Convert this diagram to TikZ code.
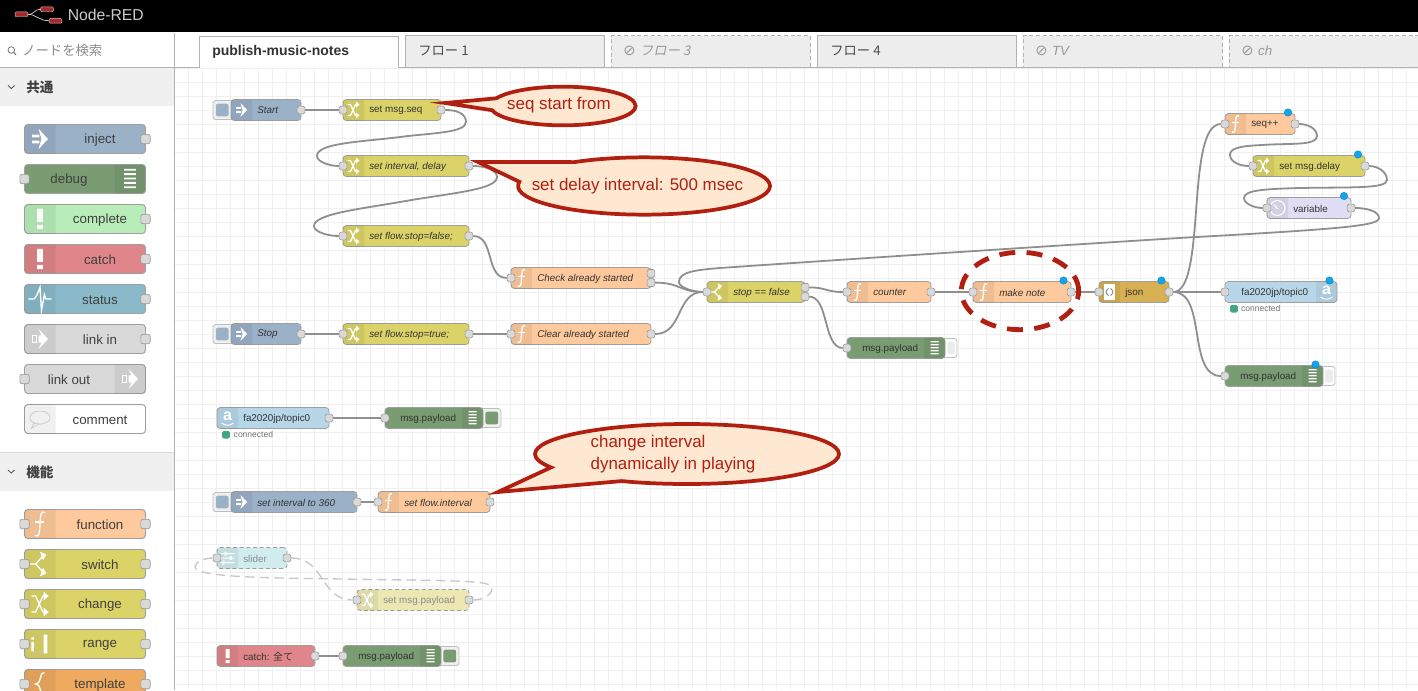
\documentclass[tikz,border=0pt]{standalone}
\usepackage{fontspec}
\setmainfont{Liberation Sans}
\newfontfamily\jpfont{Noto Sans CJK JP}
\newfontfamily\jpslant[FakeSlant=0.2]{Noto Sans CJK JP}
\newfontfamily\symfont{DejaVu Sans}
\usetikzlibrary{shapes.geometric}
\usetikzlibrary{shapes.callouts}
\usetikzlibrary{positioning}
\definecolor{colInject}{HTML}{9BB1C8}
\definecolor{colDebug}{HTML}{7A9C72}
\definecolor{colComplete}{HTML}{B8ECB8}
\definecolor{colCatch}{HTML}{E08589}
\definecolor{colStatus}{HTML}{8ABACA}
\definecolor{colLink}{HTML}{D9D9D9}
\definecolor{colComment}{HTML}{FFFFFF}
\definecolor{colFunc}{HTML}{FEC99C}
\definecolor{colSwitch}{HTML}{DBD367}
\definecolor{colChange}{HTML}{DBD367}
\definecolor{colRange}{HTML}{DBD367}
\definecolor{colTemplate}{HTML}{EFAA60}
\definecolor{colJson}{HTML}{D6B052}
\definecolor{colTopic}{HTML}{B7D7E9}
\definecolor{colDelay}{HTML}{E1DDF5}
\definecolor{colSlider}{HTML}{D1ECEE}
\definecolor{colFade}{HTML}{ECE7B3}
\definecolor{wireGray}{HTML}{8F8F8F}
\definecolor{calloutRed}{HTML}{B01F0F}
\definecolor{calloutFill}{HTML}{FFE8D2}
\definecolor{logoRed}{HTML}{A52A2A}
\definecolor{dotBlue}{HTML}{12A5EE}
\definecolor{statusGreen}{HTML}{45A583}
\pgfdeclarelayer{wires}
\pgfsetlayers{wires,main}

\tikzset{IconLine/.style = {draw = white, line width = 1pt}}
\tikzset{
  icoInject/.pic = {
    \fill[white] (-5.5,-3) rectangle (-0.5,-1.2) (-5.5,1.2) rectangle (-0.5,3);
    \fill[white] (-1,-7) -- (5.5,0) -- (-1,7) -- (1,0) -- cycle;
  },
  icoDebug/.pic = {
    \fill[white] (-4,-7) rectangle (4,-5.7) (-4,-4) rectangle (4,-2.7) (-4,-1) rectangle (4,0.3)
                 (-4,2) rectangle (4,3.3) (-4,5) rectangle (4,6.3);
  },
  icoComplete/.pic = {\fill[white] (-2,-7) rectangle (2,2) (-2,4) rectangle (2,7);},
  icoCatch/.pic = {\fill[white] (-2,-7) rectangle (2,2) (-2,4) rectangle (2,7);},
  icoStatus/.pic = {\draw[IconLine] (-8,0) -- (-4,0) -- (-2,-3) -- (0,-8) -- (1,8) -- (3,-3) -- (4,0) -- (8,0);},
  icoLink/.pic = {
    \fill[white] (-1,-7) -- (5.5,0) -- (-1,7) -- (1,2.5) -- (-1,2.5) -- (-1,-2.5) -- (1,-2.5) -- cycle;
    \draw[IconLine] (-5,-2.5) rectangle (-2.5,2.5);
  },
  icoComment/.pic = {
    \draw[gray!50] (0,-1) ellipse (7 and 4.5);
    \draw[gray!50] (-4,2.5) -- (-6,6.5) -- (-1,3.5);
  },
  icoFunc/.pic = {
    \draw[IconLine] (3.5,-8) .. controls (0.5,-9.5) and (0.3,-6) .. (0,0) .. controls (-0.3,6) and (-0.5,9.5) .. (-3.5,8);
    \draw[IconLine] (-3.5,-1.5) -- (3,-1.5);
  },
  icoSwitch/.pic = {
    \draw[IconLine] (-7,0) -- (-3,0) -- (2,-5.5) (-3,0) -- (2,5.5);
    \fill[white] (0,-8.5) -- (4.5,-6.5) -- (2,-2.5) -- cycle (0,8.5) -- (4.5,6.5) -- (2,2.5) -- cycle;
  },
  icoChange/.pic = {
    \draw[IconLine] (-6,-5.5) -- (-3,-5.5) -- (2,5.5) -- (3.5,5.5) (-6,5.5) -- (-3,5.5) -- (2,-5.5) -- (3.5,-5.5);
    \fill[white] (2.5,-8.5) -- (6,-5.5) -- (2.5,-2.5) -- cycle (2.5,8.5) -- (6,5.5) -- (2.5,2.5) -- cycle;
  },
  icoRange/.pic = {
    \fill[white] (-6,-1.5) rectangle (-4.3,5) (-6,-4.5) rectangle (-4.3,-3) (2.5,-6.5) rectangle (5,6.5);
    \draw[white!75!black,line width=0.3pt] (-4.5,-6) -- (2.5,-6.5) (-4.5,6.5) -- (2.5,6.5);
  },
  icoTemplate/.pic = {\draw[IconLine] (3,-8) .. controls (-1,-8) and (2,-1) .. (-3,0) .. controls (2,1) and (-1,8) .. (3,8);},
  icoJson/.pic = {
    \fill[white] (-6,-8) rectangle (5,8);
    \draw[gray,line width=0.6pt] (-1,-3.5) .. controls (-3.5,-3.5) and (-2,-0.5) .. (-3.5,0) .. controls (-2,0.5) and (-3.5,3.5) .. (-1,3.5)
      (1,-3.5) .. controls (3.5,-3.5) and (2,-0.5) .. (3.5,0) .. controls (2,0.5) and (3.5,3.5) .. (1,3.5);
  },
  icoTopic/.pic = {
    \node[text=white,font=\bfseries\fontsize{12}{12}\selectfont,inner sep=0pt] (-a) at (0,-2) {a};
    \draw[white,line width=0.7pt] (-6,5) .. controls (-2,8) and (2,8) .. (6,5);
  },
  icoDelay/.pic = {
    \draw[white,line width=0.8pt] (0,0) circle (7.5);
    \draw[white,line width=0.8pt] (-3.5,-3.5) -- (0,1);
  },
  icoSlider/.pic = {
    \fill[white] (-7,-5) rectangle (7,-4) (-7,-0.5) rectangle (7,0.5) (-7,4) rectangle (7,5);
    \fill[white] (-3,-6.5) rectangle (-1,-2.5) (2,-2) rectangle (4,2) (-5,2.5) rectangle (-3,6.5);
  },
  icoFade/.pic = {\pic {icoChange};}
}

\tikzset{FlowStyle/.style = {
    shape         = rectangle,
    draw          = gray!75,
    line width    = 0.6pt,
    rounded corners = 2.5pt,
    inner sep     = 0pt,
    outer sep     = 0pt,
    minimum height = 15.75pt
  }
}
\tikzset{PalStyle/.style = {
    FlowStyle,
    line width    = 0.7pt,
    minimum width = 90.75pt,
    minimum height = 21.75pt
  }
}
\tikzset{BandStyle/.style = {fill = black, fill opacity = 0.06}}
\tikzset{FlowText/.style = {
    anchor = west, inner sep = 0pt, text = black!80, yshift = -0.4pt,
    font = \fontsize{7.4}{9}\selectfont
  }
}
\tikzset{ital/.style = {font = \itshape\fontsize{7.4}{9}\selectfont}}
\tikzset{PalText/.style = {
    inner sep = 0pt, text = black!75, yshift = -0.6pt,
    font = \fontsize{10}{12}\selectfont
  }
}
\tikzset{PortStyle/.style = {
    shape = rectangle, draw = gray!80, fill = black!15, line width = 0.5pt,
    rounded corners = 1.2pt, inner sep = 0pt, minimum size = 5.8pt
  }
}
\tikzset{PalPort/.style = {PortStyle, minimum size = 7pt, rounded corners = 1.5pt}}
\tikzset{ButtonStyle/.style = {
    shape = rectangle, draw = gray!50, fill = black!6, line width = 0.6pt,
    rounded corners = 2pt, inner sep = 0pt, minimum height = 14.25pt, minimum width = 15.75pt
  }
}
\tikzset{ButtonInner/.style = {
    shape = rectangle, rounded corners = 1.5pt, inner sep = 0pt, minimum size = 9.5pt
  }
}
\tikzset{ChangedDot/.style = {
    shape = circle, fill = dotBlue, draw = dotBlue!80!black, line width = 0.3pt,
    inner sep = 0pt, minimum size = 5.6pt
  }
}
\tikzset{StatusDot/.style = {
    shape = rectangle, rounded corners = 1.2pt, fill = statusGreen,
    inner sep = 0pt, minimum size = 5.8pt
  }
}
\tikzset{StatusText/.style = {
    inner sep = 0pt, text = black!55, font = \fontsize{6.4}{8}\selectfont
  }
}
\tikzset{WireStyle/.style = {draw = wireGray, line width = 1.35pt}}
\tikzset{WireFade/.style = {draw = black!22, line width = 1pt, dash pattern = on 7pt off 4pt}}
\tikzset{CalloutStyle/.style = {
    shape = ellipse callout, draw = calloutRed, fill = calloutFill,
    line width = 2.8pt, inner sep = 0pt, outer sep = 0pt
  }
}
\tikzset{CalloutText/.style = {
    inner sep = 0pt, text = calloutRed, align = left,
    font = \fontsize{12.7}{17}\selectfont
  }
}
\tikzset{TabStyle/.style = {
    shape = rectangle, draw = black!30, fill = black!7, line width = 0.7pt,
    inner sep = 0pt, outer sep = 0pt, minimum height = 23.5pt, minimum width = 149.5pt
  }
}
\tikzset{TabOff/.style = {TabStyle, densely dashed}}
\tikzset{TabText/.style = {
    inner sep = 0pt, anchor = west, text = black!70,
    font = \jpfont\fontsize{10}{12}\selectfont
  }
}
\tikzset{TabTextOff/.style = {
    inner sep = 0pt, anchor = west, text = black!40,
    font = \itshape\fontsize{10}{12}\selectfont
  }
}
\tikzset{TabMark/.style = {
    inner sep = 0pt, anchor = west, text = black!40,
    font = \symfont\fontsize{11}{12}\selectfont
  }
}
\tikzset{HeadText/.style = {
    inner sep = 0pt, anchor = west, text = black!75,
    font = \jpfont\bfseries\fontsize{10.2}{12}\selectfont
  }
}

% workspace node with its icon on the left
\newcommand{\FlowNode}[6][]{
  \node[FlowStyle,#1,fill=col#3,minimum width={(#5-#4)*0.75pt}] (#2) at ({(#4+#5)/2},#6) {};
  \fill[BandStyle] (#4+21,#6-10.5) [rounded corners=2.5pt] -- (#4,#6-10.5) -- (#4,#6+10.5) [sharp corners] -- (#4+21,#6+10.5) -- cycle;
  \pic at (#4+10.5,#6) {ico#3};
}
\newcommand{\FlowText}[5][]{\node[FlowText,#1] (#2T) at (#3+26,#4) {#5};}
% workspace node with its icon on the right
\newcommand{\FlowNodeR}[5]{
  \node[FlowStyle,fill=col#2,minimum width={(#4-#3)*0.75pt}] (#1) at ({(#3+#4)/2},#5) {};
  \fill[BandStyle] (#4-21,#5-10.5) [rounded corners=2.5pt] -- (#4,#5-10.5) -- (#4,#5+10.5) [sharp corners] -- (#4-21,#5+10.5) -- cycle;
  \pic at (#4-10.5,#5) {ico#2};
}
% palette node
\newcommand{\PalNode}[4]{
  \node[PalStyle,fill=col#2] (#1) at (85,#3) {};
  \fill[BandStyle] (55.5,#3-14.5) [rounded corners=2.5pt] -- (24.5,#3-14.5) -- (24.5,#3+14.5) [sharp corners] -- (55.5,#3+14.5) -- cycle;
  \pic[scale=1.45] at (40,#3) {ico#2};
  \node[PalText] (#1T) at (100,#3) {#4};
}
\newcommand{\PalNodeR}[4]{
  \node[PalStyle,fill=col#2] (#1) at (85,#3) {};
  \fill[BandStyle] (114.5,#3-14.5) [rounded corners=2.5pt] -- (145.5,#3-14.5) -- (145.5,#3+14.5) [sharp corners] -- (114.5,#3+14.5) -- cycle;
  \pic[scale=1.45] at (130,#3) {ico#2};
  \node[PalText] (#1T) at (69,#3) {#4};
}
\newcommand{\PortI}[1]{\node[PortStyle] (#1I) at (#1.west) {};}
\newcommand{\PortO}[1]{\node[PortStyle] (#1O) at (#1.east) {};}
\newcommand{\PalI}[1]{\node[PalPort] (#1I) at (#1.west) {};}
\newcommand{\PalO}[1]{\node[PalPort] (#1O) at (#1.east) {};}
% inject and debug buttons
\newcommand{\ButtonL}[3]{
  \node[ButtonStyle] (#1B) at (#2-7.5,#3) {};
  \node[ButtonInner,fill=colInject] (#1BI) at (#2-8.8,#3) {};
}
\newcommand{\ButtonR}[3]{
  \node[ButtonStyle] (#1B) at (#2+7.5,#3) {};
  \node[ButtonInner,fill=colDebug] (#1BI) at (#2+8.8,#3) {};
}
\newcommand{\ButtonOff}[3]{
  \node[ButtonStyle,fill=white,minimum width=11.25pt] (#1B) at (#2+4.5,#3) {};
  \node[ButtonInner,fill=black!8,minimum width=5.5pt] (#1BI) at (#2+6,#3) {};
}

\begin{document}
\begin{tikzpicture}[x=0.75pt,y=-0.75pt]
  \useasboundingbox (0,0) rectangle (1418,690);

  % header bar
  \fill[black] (0,0) rectangle (1418,32);
  \node[shape=rectangle,fill=logoRed,draw=white!70!logoRed,line width=0.3pt,rounded corners=0.8pt,inner sep=0pt,minimum width=9.5pt,minimum height=3.6pt] (logoA) at (21.5,14.3) {};
  \node[shape=rectangle,fill=logoRed,draw=white!70!logoRed,line width=0.3pt,rounded corners=0.8pt,inner sep=0pt,minimum width=9.5pt,minimum height=3.6pt] (logoB) at (47,9.3) {};
  \node[shape=rectangle,fill=logoRed,draw=white!70!logoRed,line width=0.3pt,rounded corners=0.8pt,inner sep=0pt,minimum width=9.5pt,minimum height=3.6pt] (logoC) at (55.5,20.7) {};
  \draw[white!70!gray,line width=0.5pt] (logoA.east) .. controls (35,14.3) and (34,9.3) .. (logoB.west);
  \draw[white!70!gray,line width=0.5pt] (logoA.east) .. controls (36,14.3) and (39,20.7) .. (logoC.west);
  \node[inner sep=0pt,anchor=west,text=black!20,font=\fontsize{11.8}{14}\selectfont] (logoT) at (67.5,15) {Node-RED};

  % palette
  \node[inner sep=0pt,text=black!45,font=\jpfont\fontsize{10}{12}\selectfont,anchor=west] (searchT) at (22,50.5) {ノードを検索};
  \draw[black!55,line width=0.6pt] (11.3,50) circle (3.3);
  \draw[black!55,line width=0.8pt] (13.8,52.5) -- (16,55);
  \fill[black!6] (0,68) rectangle (174,106);
  \fill[black!6] (0,452) rectangle (174,490.5);
  \draw[black!30,line width=0.7pt] (0,67.5) -- (174,67.5);
  \draw[black!15,line width=0.5pt] (0,452) -- (174,452);
  \draw[black!70,line width=0.6pt] (8,85.5) -- (11.3,88.5) -- (14.6,85.5);
  \draw[black!70,line width=0.6pt] (8,470) -- (11.3,473) -- (14.6,470);
  \node[HeadText] (headA) at (26,87) {共通};
  \node[HeadText] (headB) at (26,472) {機能};
  \PalNode{palInject}{Inject}{139}{inject}
  \PalNodeR{palDebug}{Debug}{179}{debug}
  \PalNode{palComplete}{Complete}{219}{complete}
  \PalNode{palCatch}{Catch}{259}{catch}
  \PalNode{palStatus}{Status}{299}{status}
  \PalNode{palLinkIn}{Link}{339}{link in}
  \PalNodeR{palLinkOut}{Link}{379}{link out}
  \PalNode{palComment}{Comment}{419}{comment}
  \PalNode{palFunc}{Func}{524}{function}
  \PalNode{palSwitch}{Switch}{564}{switch}
  \PalNode{palChange}{Change}{604}{change}
  \PalNode{palRange}{Range}{644}{range}
  \PalNode{palTemplate}{Template}{684}{template}
  \PalO{palInject} \PalI{palDebug} \PalO{palComplete} \PalO{palCatch} \PalO{palStatus}
  \PalO{palLinkIn} \PalI{palLinkOut}
  \PalI{palFunc} \PalO{palFunc} \PalI{palSwitch} \PalO{palSwitch} \PalI{palChange} \PalO{palChange}
  \PalI{palRange} \PalO{palRange} \PalI{palTemplate} \PalO{palTemplate}
  \draw[black!30,line width=0.7pt] (174.5,33) -- (174.5,690);

  % tabs
  \draw[black!30,line width=0.7pt] (174.5,67.5) -- (1418,67.5);
  \node[TabStyle] (tabB) at (505,51.5) {};
  \node[TabOff] (tabC) at (711,51.5) {};
  \node[TabStyle] (tabD) at (917,51.5) {};
  \node[TabOff] (tabE) at (1123,51.5) {};
  \node[TabOff] (tabF) at (1329,51.5) {};
  \fill[white] (199,36) rectangle (398,68);
  \draw[black!30,line width=0.7pt] (199,67.5) -- (199,36) -- (398,36) -- (398,67.5);
  \node[inner sep=0pt,anchor=west,text=black!80,font=\bfseries\fontsize{10.5}{12}\selectfont] (tabAT) at (212,52) {publish-music-notes};
  \node[TabText] (tabBT) at (418,51) {フロー 1};
  \node[TabMark] (tabCS) at (623,51) {⊘};
  \node[TabTextOff,right=3pt of tabCS,font=\jpslant\fontsize{10}{12}\selectfont] (tabCT) {フロー 3};
  \node[TabText] (tabDT) at (830,51) {フロー 4};
  \node[TabMark] (tabES) at (1035,51) {⊘};
  \node[TabTextOff,right=3pt of tabES] (tabET) {TV};
  \node[TabMark] (tabFS) at (1241,51) {⊘};
  \node[TabTextOff,right=3pt of tabFS] (tabFT) {ch};

  % nodes of the flow
  \ButtonL{start}{231}{110}
  \FlowNode{start}{Inject}{231}{301}{110}
  \FlowText[ital]{start}{231}{110}{Start}
  \FlowNode{setSeq}{Change}{343}{441}{110}
  \FlowText{setSeq}{343}{110}{set msg.seq}
  \FlowNode{setInterval}{Change}{343}{469}{166}
  \FlowText[ital]{setInterval}{343}{166}{set interval, delay}
  \FlowNode{stopFalse}{Change}{343}{469}{236}
  \FlowText[ital]{stopFalse}{343}{236}{set flow.stop=false;}
  \FlowNode{checkRun}{Func}{511}{651}{278}
  \FlowText[ital]{checkRun}{511}{278}{Check already started}
  \ButtonL{stop}{231}{334}
  \FlowNode{stop}{Inject}{231}{301}{334}
  \FlowText[ital]{stop}{231}{334}{Stop}
  \FlowNode{stopTrue}{Change}{343}{469}{334}
  \FlowText[ital]{stopTrue}{343}{334}{set flow.stop=true;}
  \FlowNode{clearRun}{Func}{511}{651}{334}
  \FlowText[ital]{clearRun}{511}{334}{Clear already started}
  \FlowNode{gate}{Switch}{707}{805}{292}
  \FlowText[ital]{gate}{707}{292}{stop == false}
  \FlowNode{counter}{Func}{847}{931}{292}
  \FlowText[ital]{counter}{847}{292}{counter}
  \FlowNode{makeNote}{Func}{973}{1071}{292}
  \FlowText[ital]{makeNote}{973}{292}{make note}
  \FlowNode{json}{Json}{1099}{1169}{292}
  \FlowText{json}{1099}{292}{json}
  \FlowNode{seqInc}{Func}{1225}{1295}{124}
  \FlowText{seqInc}{1225}{124}{seq++}
  \FlowNode{setDelay}{Change}{1253}{1365}{166}
  \FlowText{setDelay}{1253}{166}{set msg.delay}
  \FlowNode{variable}{Delay}{1267}{1351}{208}
  \FlowText{variable}{1267}{208}{variable}
  \FlowNodeR{topicOut}{Topic}{1225}{1337}{292}
  \node[FlowText] (topicOutT) at (1241,292) {fa2020jp/topic0};
  \ButtonOff{debugA}{945}{348}
  \FlowNodeR{debugA}{Debug}{847}{945}{348}
  \node[FlowText] (debugAT) at (862,348) {msg.payload};
  \ButtonOff{debugB}{1323}{376}
  \FlowNodeR{debugB}{Debug}{1225}{1323}{376}
  \node[FlowText] (debugBT) at (1240,376) {msg.payload};
  \FlowNode{topicIn}{Topic}{217}{329}{418}
  \FlowText{topicIn}{217}{418}{fa2020jp/topic0}
  \ButtonR{debugC}{483}{418}
  \FlowNodeR{debugC}{Debug}{385}{483}{418}
  \node[FlowText] (debugCT) at (400,418) {msg.payload};
  \ButtonL{intervalBtn}{231}{502}
  \FlowNode{intervalBtn}{Inject}{231}{357}{502}
  \FlowText[ital]{intervalBtn}{231}{502}{set interval to 360}
  \FlowNode{flowInterval}{Func}{378}{490}{502}
  \FlowText[ital]{flowInterval}{378}{502}{set flow.interval}
  \FlowNode[densely dashed]{slider}{Slider}{217}{287}{558}
  \FlowText[text=black!45]{slider}{217}{558}{slider}
  \FlowNode[densely dashed]{setPayload}{Fade}{357}{469}{600}
  \FlowText[text=black!45]{setPayload}{357}{600}{set msg.payload}
  \FlowNode{catchAll}{Catch}{217}{315}{656}
  \FlowText{catchAll}{217}{656}{catch: {\jpfont 全て}}
  \ButtonR{debugD}{441}{656}
  \FlowNodeR{debugD}{Debug}{343}{441}{656}
  \node[FlowText] (debugDT) at (358,656) {msg.payload};

  % ports
  \PortO{start} \PortI{setSeq} \PortO{setSeq} \PortI{setInterval} \PortO{setInterval}
  \PortI{stopFalse} \PortO{stopFalse} \PortI{checkRun}
  \node[PortStyle] (checkRunA) at (651,273.4) {};
  \node[PortStyle] (checkRunB) at (651,282.6) {};
  \PortO{stop} \PortI{stopTrue} \PortO{stopTrue} \PortI{clearRun} \PortO{clearRun}
  \PortI{gate}
  \node[PortStyle] (gateA) at (805,287.4) {};
  \node[PortStyle] (gateB) at (805,296.6) {};
  \PortI{counter} \PortO{counter} \PortI{makeNote} \PortO{makeNote} \PortI{json} \PortO{json}
  \PortI{seqInc} \PortO{seqInc} \PortI{setDelay} \PortO{setDelay} \PortI{variable} \PortO{variable}
  \PortI{topicOut} \PortI{debugA} \PortI{debugB}
  \PortO{topicIn} \PortI{debugC} \PortO{intervalBtn} \PortI{flowInterval} \PortO{flowInterval}
  \PortI{slider} \PortO{slider} \PortI{setPayload} \PortO{setPayload}
  \PortO{catchAll} \PortI{debugD}

  % changed marks and status
  \node[ChangedDot] (makeNoteD) at (1063.5,280.5) {};
  \node[ChangedDot] (jsonD) at (1161.5,280.5) {};
  \node[ChangedDot] (seqIncD) at (1288,112.5) {};
  \node[ChangedDot] (setDelayD) at (1358,154.5) {};
  \node[ChangedDot] (variableD) at (1344,196) {};
  \node[ChangedDot] (topicOutD) at (1329.5,280.5) {};
  \node[ChangedDot] (debugBD) at (1315.5,364.5) {};
  \node[StatusDot] (topicOutS) at (1234,308.7) {};
  \node[StatusText,right=2pt of topicOutS] (topicOutST) {connected};
  \node[StatusDot] (topicInS) at (226,434.7) {};
  \node[StatusText,right=2.5pt of topicInS] (topicInST) {connected};

  % wires
  \begin{pgfonlayer}{wires}
    \draw[black!6,line width=0.6pt,y=0.75pt,shift={(6.7,2)}] (168.5,-692) grid[step=14] (1411.5,-70);
    \draw[WireStyle] (startO) -- (setSeqI);
    \draw[WireStyle] (setSeqO) .. controls (456,110) and (466,113) .. (466,122) .. controls (466,133) and (430,133) .. (400,137) .. controls (360,142) and (317,143) .. (317,156) .. controls (317,162) and (330,166) .. (setIntervalI);
    \draw[WireStyle] (setIntervalO) .. controls (485,166) and (497,170) .. (497,177) .. controls (497,190) and (450,193) .. (400,202) .. controls (360,209) and (314,214) .. (314,226) .. controls (314,232) and (328,236) .. (stopFalseI);
    \draw[WireStyle] (stopFalseO) .. controls (495,236) and (485,278) .. (checkRunI);
    \draw[WireStyle] (checkRunB) .. controls (680,282.6) and (680,292) .. (gateI);
    \draw[WireStyle] (stopO) -- (stopTrueI);
    \draw[WireStyle] (stopTrueO) -- (clearRunI);
    \draw[WireStyle] (clearRunO) .. controls (683,334) and (676,292) .. (gateI);
    \draw[WireStyle] (gateA) .. controls (826,287.4) and (826,292) .. (counterI);
    \draw[WireStyle] (gateB) .. controls (829,296.6) and (823,348) .. (debugAI);
    \draw[WireStyle] (counterO) -- (makeNoteI);
    \draw[WireStyle] (makeNoteO) -- (jsonI);
    \draw[WireStyle] (jsonO) .. controls (1207,292) and (1185,124) .. (seqIncI);
    \draw[WireStyle] (jsonO) -- (topicOutI);
    \draw[WireStyle] (jsonO) .. controls (1207,292) and (1187,376) .. (debugBI);
    \draw[WireStyle] (seqIncO) .. controls (1307,124) and (1317,128) .. (1317,136) .. controls (1317,146) and (1290,143) .. (1262,145) .. controls (1240,146) and (1230,148) .. (1230,155) .. controls (1230,162) and (1240,166) .. (setDelayI);
    \draw[WireStyle] (setDelayO) .. controls (1378,166) and (1387,172) .. (1387,180) .. controls (1387,189) and (1350,187) .. (1300,188) .. controls (1265,189) and (1244,190) .. (1244,198) .. controls (1244,204) and (1255,208) .. (variableI);
    \draw[WireStyle] (variableO) .. controls (1366,208) and (1379,211) .. (1379,218) .. controls (1379,226) and (1340,229) .. (1179,238) .. controls (1050,246) and (850,259) .. (720,268) .. controls (695,270) and (679,272) .. (679,282) .. controls (679,288) and (695,292) .. (gateI);
    \draw[WireStyle] (topicInO) -- (debugCI);
    \draw[WireStyle] (intervalBtnO) -- (flowIntervalI);
    \draw[WireStyle] (catchAllO) -- (debugDI);
    \draw[WireFade] (sliderO) .. controls (325,558) and (320,600) .. (setPayloadI);
    \draw[WireFade] (setPayloadO) .. controls (483,600) and (492,595) .. (492,588) .. controls (492,580) and (460,581) .. (343,579) .. controls (280,578) and (195,578) .. (195,567) .. controls (195,562) and (205,558) .. (sliderI);
  \end{pgfonlayer}

  % hand drawn marks
  \node[draw=calloutRed,shape=ellipse,line width=3.6pt,dash pattern=on 12pt off 8.5pt,inner sep=0pt,minimum width=88pt,minimum height=58pt] (noteRing) at (1020,291) {};
  \node[CalloutStyle,minimum width=109pt,minimum height=29pt,callout absolute pointer={(445,103)},callout pointer arc=36] (calloutSeq) at (563,106) {};
  \node[CalloutText] (calloutSeqT) at (559,105) {seq start from};
  \node[CalloutStyle,minimum width=189pt,minimum height=43pt,callout absolute pointer={(478,162)},callout pointer arc=48] (calloutDelay) at (644,186) {};
  \node[CalloutText] (calloutDelayT) at (637.5,186) {set delay interval: 500 msec};
  \node[CalloutStyle,minimum width=228pt,minimum height=45pt,callout absolute pointer={(498,492)},callout pointer arc=38] (calloutPlay) at (687,454) {};
  \node[CalloutText] (calloutPlayT) at (673,454) {change interval\\dynamically in playing};
\end{tikzpicture}
\end{document}
